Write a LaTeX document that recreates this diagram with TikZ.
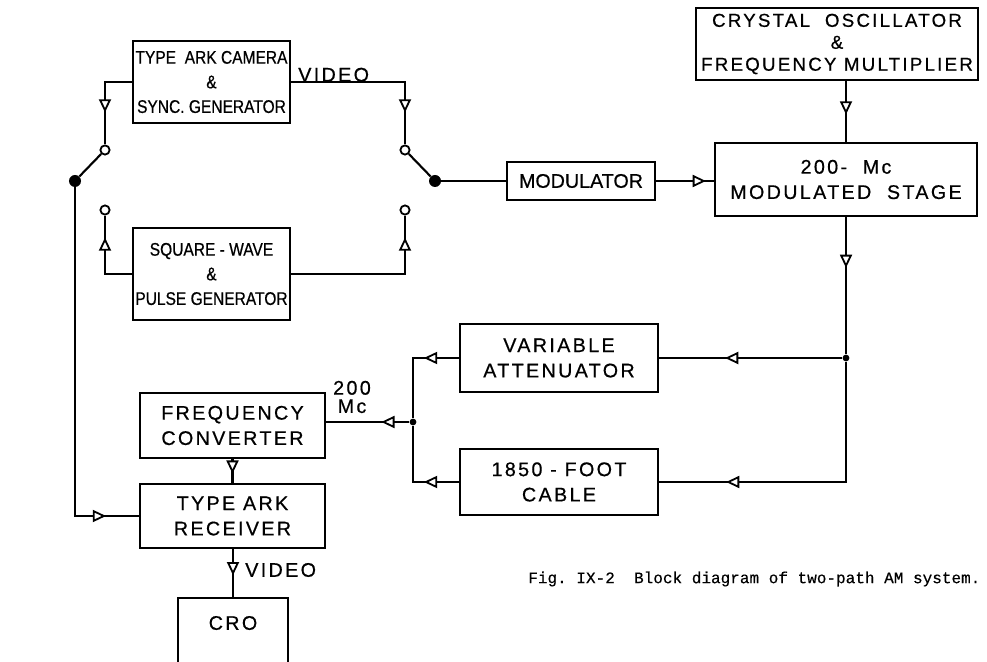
\documentclass[tikz,border=0pt]{standalone}
\usepackage{fontspec}
\setmainfont{Liberation Sans}
\newfontfamily\capsfont[LetterSpace=12,FakeBold=0.6]{Liberation Sans}
\newfontfamily\plainfont[FakeBold=0.6]{Liberation Sans}
\newfontfamily\narrowfont[FakeBold=0.6,FakeStretch=0.85]{Liberation Sans}
\newfontfamily\typefont[FakeBold=0.4]{Liberation Mono}
\usetikzlibrary{arrows.meta,positioning,calc,decorations.markings}

\tikzset{tri/.tip={Triangle[open,fill=white,length=3.3mm,width=3mm,line width=1.3pt]}}

\begin{document}
\begin{tikzpicture}[x=0.025cm,y=-0.025cm,
 blk/.style={draw,line width=1.5pt,inner sep=0pt,align=center,font=\capsfont\fontsize{14}{18}\selectfont},
 nblk/.style={blk,font=\narrowfont\fontsize{13}{17.5}\selectfont},
 wire/.style={line width=1.5pt},
 midtip/.style={postaction={decorate},decoration={markings,mark=at position #1 with {\arrow{tri}}}},
 contact/.style={circle,draw,fill=white,line width=1.3pt,inner sep=0pt,minimum size=2.3mm},
 pivot/.style={circle,fill,inner sep=0pt,minimum size=3mm},
 lbl/.style={font=\capsfont\fontsize{14}{13}\selectfont,inner sep=0pt,align=center}]
\useasboundingbox (0,0) rectangle (987,662);
\clip (0,0) rectangle (987,662);

% blocks
\node[nblk,minimum width=3.93cm,minimum height=2.05cm] (cam) at (211.5,82) {TYPE~~ARK CAMERA\\\&\\SYNC. GENERATOR};
\node[nblk,minimum width=3.93cm,minimum height=2.3cm] (sq) at (211.5,274) {SQUARE - WAVE\\\&\\PULSE GENERATOR};
\node[blk,minimum width=3.7cm,minimum height=0.93cm,font=\plainfont\fontsize{14}{18}\selectfont] (mod) at (581,181) {MODULATOR};
\node[blk,minimum width=6.55cm,minimum height=1.83cm] (stage) at (846,179.5) {200-~~Mc\\MODULATED~ STAGE};
\node[blk,minimum width=7.05cm,minimum height=1.8cm,font=\capsfont\fontsize{13.3}{15.6}\selectfont] (xtal) at (837,44) {CRYSTAL~~OSCILLATOR\\\&\\FREQUENCY MULTIPLIER};
\node[blk,minimum width=4.95cm,minimum height=1.68cm] (var) at (559,358) {VARIABLE\\ATTENUATOR};
\node[blk,minimum width=4.95cm,minimum height=1.63cm] (cable) at (559,482) {1850 - FOOT\\CABLE};
\node[blk,minimum width=4.63cm,minimum height=1.63cm] (fc) at (232.5,425.5) {FREQUENCY\\CONVERTER};
\node[blk,minimum width=4.63cm,minimum height=1.58cm] (rx) at (232.5,516) {TYPE ARK\\RECEIVER};
\node[blk,minimum width=2.75cm,anchor=north,inner ysep=0.45cm,text depth=1.2cm] (cro) at (233,597) {CRO};

% switch contacts and junctions
\node[contact] (cLu) at (105,150) {};
\node[contact] (cLd) at (105,210) {};
\node[pivot] (pL) at (75,181) {};
\node[contact] (cRu) at (405,150) {};
\node[contact] (cRd) at (405,210) {};
\node[pivot] (pR) at (435,181) {};
\node[pivot,minimum size=1.7mm] (jR) at (846,358) {};
\node[pivot,minimum size=1.7mm] (jL) at (413,422) {};

% connections
\draw[wire,midtip=-0.8cm] (cam.west) -| (cLu);
\draw[wire,midtip=-0.8cm] (cam.east) -| (cRu);
\draw[wire,midtip=-0.55cm] (sq.west) -| (cLd);
\draw[wire,midtip=-0.55cm] (sq.east) -| (cRd);
\draw[wire] (pL) -- (cLu);
\draw[wire] (cRu) -- (pR);
\draw[wire] (pR) -- (pR -| mod.west);
\draw[wire,midtip=-0.2cm] (mod) -- (mod -| stage.west);
\draw[wire,midtip=0.55] (xtal.south -| jR) -- (stage.north -| jR);
\draw[wire,midtip=0.37] (stage.south -| jR) -- (jR);
\draw[wire,midtip=0.64] (jR) -- (jR -| var.east);
\draw[wire,midtip=-1.675cm] (jR) |- (cable.east);
\draw[wire,midtip=0.875cm] (var.west) -| (jL);
\draw[wire,midtip=0.875cm] (cable.west) -| (jL);
\draw[wire,midtip=0.7cm] (jL) -- (jL -| fc.east);
\draw[wire,midtip=0.6] (fc) -- (rx);
\draw[wire,midtip=-0.82cm] (pL) |- (rx.west);
\draw[wire,midtip=0.55] (rx.south -| cro.north) -- (cro.north);

% labels
\node[lbl,anchor=south west] (vidT) at (298,82) {VIDEO};
\node[lbl,anchor=west] (vidB) at (245,570) {VIDEO};
\node[lbl] (mc) at (352,397) {200\\Mc};
\node[anchor=west,inner sep=0pt,font=\typefont\fontsize{11.4}{13}\selectfont] (cap) at (528,579) {Fig.~IX-2~~Block diagram of two-path AM system.};
\end{tikzpicture}
\end{document}
